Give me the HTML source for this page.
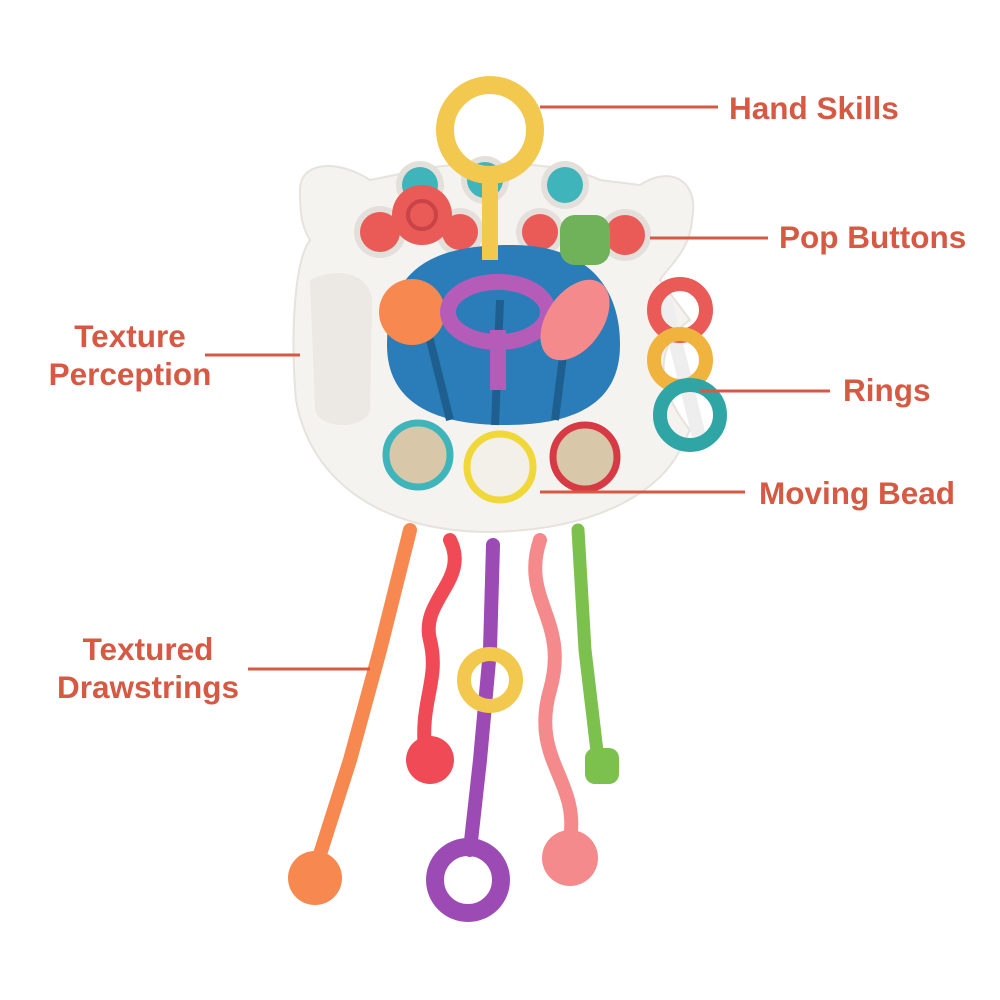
<!DOCTYPE html>
<html><head><style>
body{margin:0;background:#fff;}
.l{position:absolute;font-family:"Liberation Sans",sans-serif;font-weight:bold;font-size:31.5px;color:#d65a43;line-height:38px;white-space:nowrap}
</style></head><body>
<div style="position:relative;width:1000px;height:1000px;overflow:hidden">
<svg width="1000" height="1000" style="position:absolute;left:0;top:0">
<!-- strings -->
<g fill="none" stroke-linecap="round">
<path d="M410 530 L380 650 L350 760 L315 870" stroke="#f7884f" stroke-width="14"/>
<path d="M450 540 C470 580,420 600,430 640 C440 680,420 700,425 750" stroke="#ef4a56" stroke-width="14"/>
<path d="M493 545 L490 650 L480 760 L470 850" stroke="#9d4bb4" stroke-width="14"/>
<path d="M540 540 C520 600,570 620,550 690 C530 760,580 780,570 840" stroke="#f58a8c" stroke-width="14"/>
<path d="M578 530 L585 650 L598 760" stroke="#7cc14e" stroke-width="13"/>
</g>
<circle cx="490" cy="680" r="26" fill="none" stroke="#f3c84e" stroke-width="14"/>
<circle cx="430" cy="760" r="24" fill="#ef4a56"/>
<circle cx="468" cy="880" r="33" fill="none" stroke="#9d4bb4" stroke-width="18"/>
<circle cx="570" cy="858" r="28" fill="#f58a8c"/>
<circle cx="315" cy="878" r="27" fill="#f7884f"/>
<rect x="585" y="748" width="34" height="36" rx="10" fill="#7cc14e"/>
<!-- body -->
<path d="M300 190 C300 160,340 160,370 180 L420 170 C460 160,560 160,600 180 L640 185 C670 165,700 180,692 220 C690 250,670 265,660 280 L690 320 C660 340,650 380,690 430 L680 450 C660 490,600 530,490 532 C380 532,310 480,296 400 C290 330,295 260,310 240 C300 225,300 205,300 190 Z" fill="#f5f3f0" stroke="#e6e2dc" stroke-width="2"/>
<path d="M310 280 C340 265,370 275,372 300 L370 410 C365 430,320 430,315 410 Z" fill="#ece8e3"/>
<g>
<circle cx="420" cy="185" r="24" fill="#e3e0db"/><circle cx="420" cy="185" r="18" fill="#3fb5bb"/>
<circle cx="485" cy="180" r="24" fill="#e3e0db"/><circle cx="485" cy="180" r="18" fill="#3fb5bb"/>
<circle cx="565" cy="185" r="24" fill="#e3e0db"/><circle cx="565" cy="185" r="18" fill="#3fb5bb"/>
<circle cx="380" cy="232" r="26" fill="#e3e0db"/><circle cx="380" cy="232" r="20" fill="#ea5a57"/>
<circle cx="460" cy="232" r="24" fill="#e3e0db"/><circle cx="460" cy="232" r="18" fill="#ea5a57"/>
<circle cx="540" cy="232" r="24" fill="#e3e0db"/><circle cx="540" cy="232" r="18" fill="#ea5a57"/>
<circle cx="625" cy="235" r="26" fill="#e3e0db"/><circle cx="625" cy="235" r="20" fill="#ea5a57"/>
</g>
<path d="M387 345 C387 260,445 245,512 245 C580 245,620 280,620 345 C620 400,580 425,505 425 C430 425,387 400,387 345 Z" fill="#2a7db8"/>
<path d="M420 300 L450 420 M500 300 L495 425 M570 300 L555 420" stroke="#1f5f90" stroke-width="8"/>
<circle cx="490" cy="130" r="45" fill="none" stroke="#f3c84e" stroke-width="18"/>
<rect x="482" y="170" width="16" height="90" fill="#f3c84e"/>
<circle cx="422" cy="215" r="30" fill="#ea5a57"/><circle cx="422" cy="215" r="14" fill="none" stroke="#c94446" stroke-width="4"/>
<rect x="560" y="215" width="50" height="50" rx="15" fill="#6fb25a"/>
<circle cx="412" cy="312" r="33" fill="#f7884f"/>
<ellipse cx="498" cy="312" rx="50" ry="30" fill="none" stroke="#b45cb8" stroke-width="16"/>
<rect x="490" y="330" width="16" height="60" fill="#b45cb8"/>
<ellipse cx="575" cy="320" rx="28" ry="45" fill="#f58a8c" transform="rotate(35 575 320)"/>
<path d="M665 300 L700 440" stroke="#eee" stroke-width="14"/>
<circle cx="680" cy="310" r="26" fill="none" stroke="#ea5a57" stroke-width="14"/>
<circle cx="680" cy="360" r="26" fill="none" stroke="#f0b33e" stroke-width="14"/>
<circle cx="690" cy="415" r="30" fill="none" stroke="#2fa6a5" stroke-width="14"/>
<circle cx="418" cy="455" r="32" fill="#d8c7a8" stroke="#3fb5bb" stroke-width="7"/>
<circle cx="500" cy="467" r="33" fill="#f3f0ea" stroke="#f1d83a" stroke-width="7"/>
<circle cx="585" cy="457" r="32" fill="#d8c7a8" stroke="#d63a45" stroke-width="7"/>
<g stroke="#d65a43" stroke-width="3">
<line x1="540" y1="107" x2="718" y2="107"/>
<line x1="650" y1="238" x2="768" y2="238"/>
<line x1="205" y1="355" x2="300" y2="355"/>
<line x1="700" y1="391" x2="830" y2="391"/>
<line x1="540" y1="492" x2="745" y2="492"/>
<line x1="248" y1="669" x2="370" y2="669"/>
</g>
</svg>
<div class="l" style="left:729px;top:89px">Hand Skills</div>
<div class="l" style="left:779px;top:218px">Pop Buttons</div>
<div class="l" style="left:40px;top:317px;width:180px;text-align:center">Texture<br>Perception</div>
<div class="l" style="left:843px;top:371px">Rings</div>
<div class="l" style="left:759px;top:474px">Moving Bead</div>
<div class="l" style="left:48px;top:630px;width:200px;text-align:center">Textured<br>Drawstrings</div>
</div>
</body></html>
